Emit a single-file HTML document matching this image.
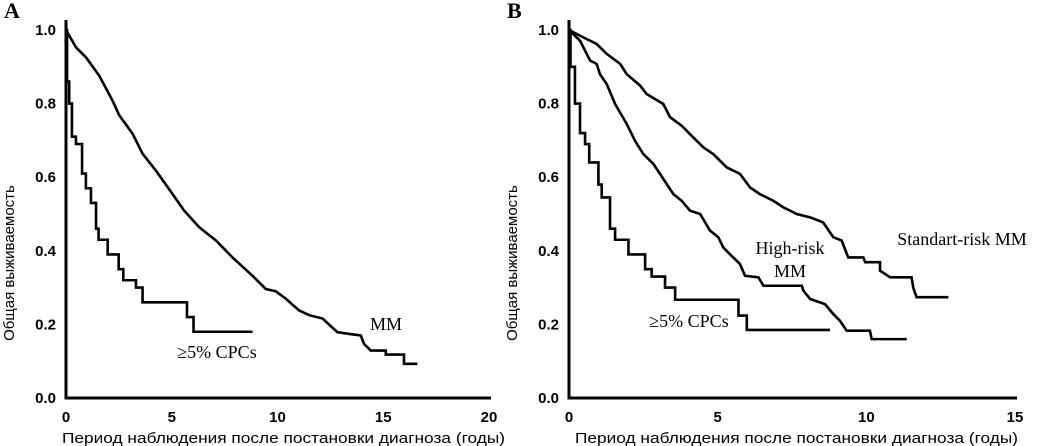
<!DOCTYPE html>
<html><head><meta charset="utf-8"><style>
html,body{margin:0;padding:0;background:#fff;}
svg{display:block;}
.tick{font-family:"Liberation Sans",sans-serif;font-weight:bold;font-size:15px;fill:#000;}
.ttl{font-family:"Liberation Sans",sans-serif;font-size:15px;fill:#000;}
.lab{font-family:"Liberation Serif",serif;font-size:18px;fill:#000;}
.pl{font-family:"Liberation Serif",serif;font-weight:bold;font-size:22px;fill:#000;}
</style></head><body>
<svg id="chart" width="1059" height="446" viewBox="0 0 1059 446" xmlns="http://www.w3.org/2000/svg"></svg>
<script>
// Panel A data
const aMmT=[0,0.47,0.94,1.57,2.20,2.52,3.15,3.62,4.25,5.04,5.59,6.30,7.09,7.87,8.82,9.45,9.92,10.39,11.02,11.50,12.13,12.83,13.39,13.94,14.09,14.41,15.12,15.12,15.98,15.98,16.61];
const aMmS=[1.0,0.953,0.926,0.876,0.808,0.768,0.718,0.664,0.618,0.554,0.509,0.464,0.428,0.382,0.332,0.296,0.290,0.270,0.238,0.225,0.216,0.179,0.174,0.170,0.147,0.129,0.129,0.118,0.118,0.093,0.093];
const aCpcT=[0,0.05,0.15,0.28,0.47,0.76,0.94,1.18,1.42,1.54,1.97,2.49,2.71,3.31,3.62,5.72,6.03];
const aCpcS=[1.0,0.86,0.80,0.71,0.69,0.61,0.57,0.53,0.46,0.43,0.39,0.35,0.32,0.30,0.26,0.22,0.18];
const aCpcEnd=8.82;
// Panel B data
const bStdT=[0,0.48,0.93,1.27,1.72,1.94,2.39,2.61,3.17,3.40,3.79,4.18,4.52,4.85,5.30,5.75,6.09,6.42,6.87,7.21,7.66,8.11,8.55,8.89,9.17,9.39,9.90,9.96,10.46,10.46,10.80,11.52,11.58,11.69,12.76];
const bStdS=[1.0,0.980,0.962,0.935,0.908,0.880,0.849,0.826,0.799,0.763,0.740,0.708,0.681,0.663,0.627,0.609,0.572,0.554,0.536,0.518,0.500,0.491,0.477,0.437,0.428,0.382,0.382,0.369,0.369,0.346,0.328,0.328,0.299,0.274,0.274];
const bHighT=[0,0.37,0.71,0.93,1.04,1.27,1.55,1.94,2.22,2.50,2.84,3.06,3.51,3.79,4.07,4.41,4.74,5.02,5.19,5.41,5.75,5.92,6.37,6.54,7.83,7.88,8.11,8.61,8.89,9.11,9.34,10.12,10.18,11.36];
const bHighS=[1.0,0.971,0.917,0.908,0.880,0.853,0.799,0.745,0.699,0.663,0.636,0.609,0.554,0.536,0.509,0.500,0.455,0.437,0.409,0.391,0.364,0.332,0.328,0.305,0.305,0.292,0.269,0.255,0.228,0.210,0.183,0.183,0.160,0.160];
const bCpcT=[0,0.05,0.20,0.37,0.54,0.68,0.99,1.10,1.38,1.55,2.00,2.56,2.78,3.23,3.57,5.70,5.98];
const bCpcS=[1.0,0.90,0.80,0.72,0.69,0.64,0.58,0.545,0.46,0.43,0.39,0.35,0.33,0.30,0.267,0.224,0.185];
const bCpcEnd=8.78;
const yTicks=[0.0,0.2,0.4,0.6,0.8,1.0];
const aXTicks=[0,5,10,15,20];
const bXTicks=[0,5,10,15];

const NS='http://www.w3.org/2000/svg';
const svg=document.getElementById('chart');
function mk(tag,attrs,parent,text){const e=document.createElementNS(NS,tag);for(const k in attrs)e.setAttribute(k,attrs[k]);if(text!==undefined)e.textContent=text;(parent||svg).appendChild(e);return e;}

function panel(p){
  const g=mk('g',{});
  
  
  const x=t=>p.x0+(t/p.xmax)*(p.x1-p.x0);
  const y=s=>398-s*368;
  const ax=mk('path',{d:`M${p.x0} 20 V398 H${p.x1+2}`,stroke:'#000','stroke-width':3,fill:'none'},g);
  
  
  yTicks.forEach(v=>{
    const t=mk('text',{x:p.x0-10,y:y(v)+5,'text-anchor':'end',class:'tick'},g,v.toFixed(1));
    
    
  });
  p.xt.forEach(v=>{
    const t=mk('text',{x:x(v),y:422,'text-anchor':'middle',class:'tick'},g,String(v));
    
    
  });
  const yt=mk('text',{transform:`translate(${p.x0-52},263) rotate(-90)`,'text-anchor':'middle',class:'ttl'},g,'Общая выживаемость');
  
  
  const xtl=mk('text',{x:p.xtx,y:443,class:'ttl',textLength:443,lengthAdjust:'spacingAndGlyphs'},g,'Период наблюдения после постановки диагноза (годы)');
  
  
  const pl=mk('text',{x:p.x0-62,y:18,class:'pl'},g,p.letter);
  
  
  p.series.forEach(s=>{
    let d='';
    if(s.step){
      d=`M${x(s.t[0])} ${y(s.s[0])}`;
      for(let i=1;i<s.t.length;i++){d+=` H${x(s.t[i])} V${y(s.s[i])}`;}
      d+=` H${x(s.end)}`;
    } else {
      d=s.t.map((t,i)=>(i?'L':'M')+x(t)+' '+y(s.s[i])).join(' ');
    }
    const pe=mk('path',{d:d,stroke:'#000','stroke-width':2.6,fill:'none','stroke-linejoin':'miter'},g);
    
    
  });
  p.labels.forEach(l=>{
    const t=mk('text',{x:l.x,y:l.y,class:'lab','text-anchor':'middle'},g,l.text);
    
    
  });
}
panel({name:'panel-a',letter:'A',x0:66,x1:489,xmax:20,xt:aXTicks,xtx:62,
  series:[{name:'mm-curve',t:aMmT,s:aMmS},{name:'cpc-curve',t:aCpcT,s:aCpcS,step:true,end:aCpcEnd}],
  labels:[{x:386,y:330,text:'MM',name:'mm-label'},{x:217,y:358,text:'≥5% CPCs',name:'cpc-label'}]});
panel({name:'panel-b',letter:'B',x0:569,x1:1015,xmax:15,xt:bXTicks,xtx:575,
  series:[{name:'standard-risk-curve',t:bStdT,s:bStdS},{name:'high-risk-curve',t:bHighT,s:bHighS},{name:'cpc-curve-b',t:bCpcT,s:bCpcS,step:true,end:bCpcEnd}],
  labels:[{x:962,y:245,text:'Standart-risk MM',name:'standard-risk-label'},{x:790,y:254,text:'High-risk',name:'high-risk-label'},{x:790,y:277,text:'MM',name:'high-risk-label-mm'},{x:689,y:327,text:'≥5% CPCs',name:'cpc-label-b'}]});
</script>
</body></html>
